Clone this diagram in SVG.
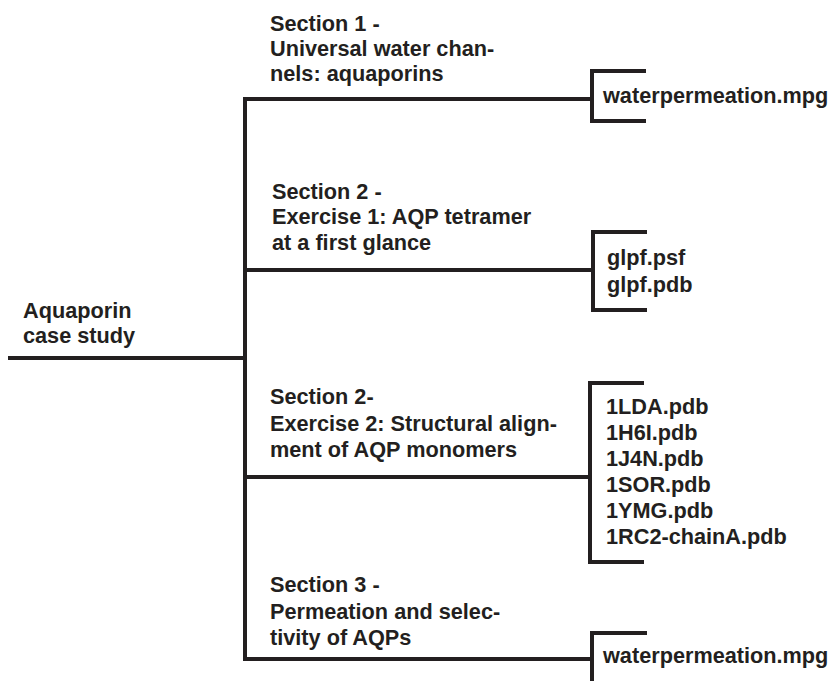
<svg xmlns="http://www.w3.org/2000/svg" width="833" height="681" viewBox="0 0 833 681">
<style>
.t{font-family:"Liberation Sans",Arial,sans-serif;font-weight:bold;font-size:21.7px;fill:#231f20}
.l{stroke:#231f20;stroke-width:4;fill:none;stroke-linecap:square}
</style>
<rect width="833" height="681" fill="#fff"/>
<g id="connectors">
<path class="l" d="M10,358H245M245,99V659M245,99H590M245,270H590M245,477H590M245,659H590"/>
</g>
<g id="root"><text class="t" x="23" y="318">Aquaporin</text><text class="t" x="23" y="343">case study</text></g>
<g id="s1"><text class="t" x="270" y="31">Section 1 -</text><text class="t" x="270" y="56">Universal water chan-</text><text class="t" x="270" y="81">nels: aquaporins</text></g>
<g id="s2a"><text class="t" x="272" y="199">Section 2 -</text><text class="t" x="272" y="224">Exercise 1: AQP tetramer</text><text class="t" x="272" y="250">at a first glance</text></g>
<g id="s2b"><text class="t" x="270" y="404">Section 2-</text><text class="t" x="270" y="431">Exercise 2: Structural align-</text><text class="t" x="270" y="457">ment of AQP monomers</text></g>
<g id="s3"><text class="t" x="270" y="592">Section 3 -</text><text class="t" x="270" y="619">Permeation and selec-</text><text class="t" x="270" y="645">tivity of AQPs</text></g>
<g id="f1"><path class="l" d="M644,71H592V121H644"/><text class="t" x="603" y="103">waterpermeation.mpg</text></g>
<g id="f2"><path class="l" d="M645,232H593V310H645"/><text class="t" x="607" y="265">glpf.psf</text><text class="t" x="607" y="292">glpf.pdb</text></g>
<g id="f3"><path class="l" d="M642,383H590V562H642"/><text class="t" x="606" y="414">1LDA.pdb</text><text class="t" x="606" y="440">1H6I.pdb</text><text class="t" x="606" y="466">1J4N.pdb</text><text class="t" x="606" y="492">1SOR.pdb</text><text class="t" x="606" y="518">1YMG.pdb</text><text class="t" x="606" y="544">1RC2-chainA.pdb</text></g>
<g id="f4"><path class="l" d="M645,633H592V683"/><text class="t" x="603" y="663">waterpermeation.mpg</text></g>
</svg>
